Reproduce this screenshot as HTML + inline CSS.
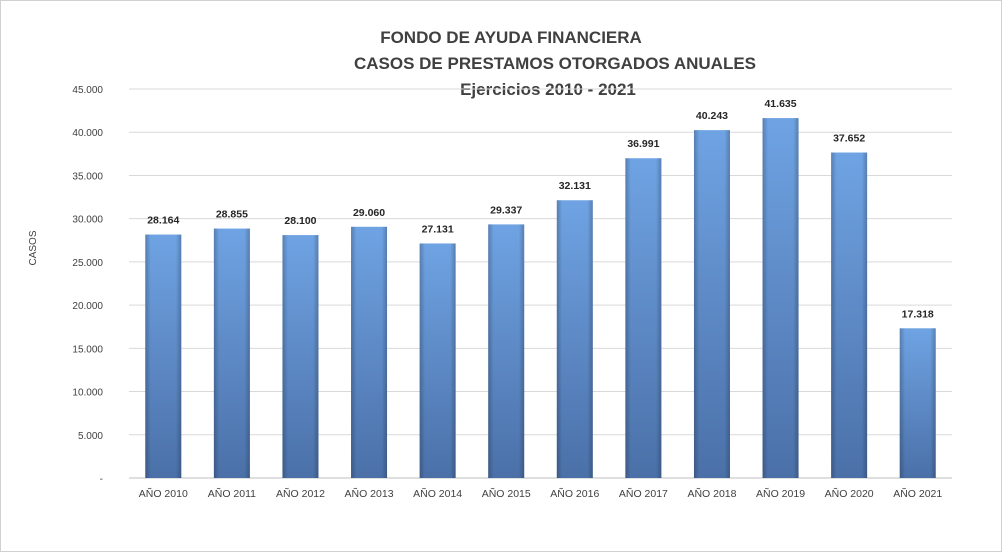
<!DOCTYPE html>
<html><head><meta charset="utf-8"><style>
body{margin:0;background:#fff}
svg{display:block;font-family:"Liberation Sans",sans-serif}
</style></head><body>
<svg id="chart" width="1002" height="552" viewBox="0 0 1002 552">
<defs>
<linearGradient id="gv" x1="0" y1="0" x2="0" y2="1"><stop offset="0" stop-color="#6fa3e3"/><stop offset="1" stop-color="#4b70a8"/></linearGradient>
<linearGradient id="gh" x1="0" y1="0" x2="1" y2="0"><stop offset="0" stop-color="#000" stop-opacity="0.22"/><stop offset="0.15" stop-color="#000" stop-opacity="0"/><stop offset="0.85" stop-color="#000" stop-opacity="0"/><stop offset="1" stop-color="#000" stop-opacity="0.22"/></linearGradient>
</defs>
<rect x="0.5" y="0.5" width="1001" height="551" fill="#fff" stroke="#d0d0d0"/>
<text x="511" y="43" text-anchor="middle" font-size="17" font-weight="bold" fill="#404040">FONDO DE AYUDA FINANCIERA</text>
<text x="555" y="69" text-anchor="middle" font-size="17" font-weight="bold" fill="#404040">CASOS DE PRESTAMOS  OTORGADOS  ANUALES</text>
<text x="548" y="95" text-anchor="middle" font-size="17" font-weight="bold" fill="#404040">Ejercicios  2010 - 2021</text>
<text transform="translate(36,248) rotate(-90)" text-anchor="middle" font-size="10" fill="#404040">CASOS</text>
<g id="grid"></g><g id="bars"></g>
</svg>
<script>
const categories=["AÑO 2010","AÑO 2011","AÑO 2012","AÑO 2013","AÑO 2014","AÑO 2015","AÑO 2016","AÑO 2017","AÑO 2018","AÑO 2019","AÑO 2020","AÑO 2021"];
const values=[28164,28855,28100,29060,27131,29337,32131,36991,40243,41635,37652,17318];
const valueLabels=["28.164","28.855","28.100","29.060","27.131","29.337","32.131","36.991","40.243","41.635","37.652","17.318"];
const tickValues=[0,5000,10000,15000,20000,25000,30000,35000,40000,45000];
const tickLabels=["-","5.000","10.000","15.000","20.000","25.000","30.000","35.000","40.000","45.000"];
const NS="http://www.w3.org/2000/svg";
const x0=129,x1=952,y0=478,y1=89,ymax=45000;
const step=(x1-x0)/categories.length;
const y=v=>y0-(v/ymax)*(y0-y1);
const xc=i=>x0+step*(i+0.5);
function mk(t,a,p){const e=document.createElementNS(NS,t);for(const k in a)e.setAttribute(k,a[k]);p.appendChild(e);return e;}
const grid=document.getElementById('grid'),bars=document.getElementById('bars');
tickValues.forEach((v,i)=>{
 const l=mk('line',{x1:x0,x2:x1,y1:y(v),y2:y(v),stroke:i==0?'#bfbfbf':'#d9d9d9','stroke-width':1},grid);
 
 
 const t=mk('text',{x:103,y:y(v)+4,'text-anchor':'end','font-size':10,fill:'#404040'},grid);t.textContent=tickLabels[i];
 
 
});
const bw=36;
values.forEach((v,i)=>{
 const bx=xc(i)-bw/2,by=y(v),h=y0-by;
 const r=mk('rect',{x:bx,y:by,width:bw,height:h,fill:'url(#gv)'},bars);
 
 
 const s=mk('rect',{x:bx,y:by,width:bw,height:h,fill:'url(#gh)'},bars);
 
 
 const lt=mk('text',{x:xc(i),y:by-11,'text-anchor':'middle','font-size':10.5,'font-weight':'bold',fill:'#262626'},bars);lt.textContent=valueLabels[i];
 
 
 const ct=mk('text',{x:xc(i),y:497,'text-anchor':'middle','font-size':10.5,fill:'#404040'},bars);ct.textContent=categories[i];
 
 
});
</script>
</body></html>
